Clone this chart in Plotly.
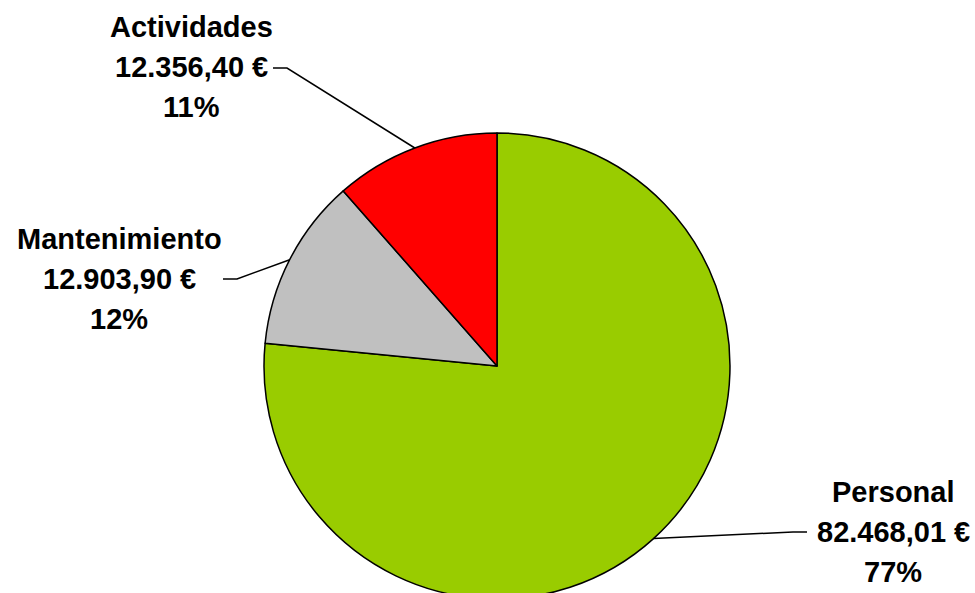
import math
import plotly.graph_objects as go

# ---- data ----
categories = ["Personal", "Mantenimiento", "Actividades"]
values = [82468.01, 12903.90, 12356.40]
colors = ["#99CC00", "#C0C0C0", "#FF0000"]

# ---- layout constants (pixels) ----
W, H = 975, 600    # figure slightly taller than the window: pie bottom is cut like the reference
R = 233            # pie radius in px
CX = 497           # pie centre x
CY = 366           # pie centre y

FONT = "Liberation Sans"
FS = 29
LINE_GAP = 40

# label block centres (x, y of first line) and leader elbow / end points
label_pos = {
    "Personal": (893, 492, (793, 532), (807, 532)),
    "Mantenimiento": (119, 239, (237, 279), (223, 279)),
    "Actividades": (191, 27, (287, 68), (273, 68)),
}


def fmt_eur(v):
    s = f"{v:,.2f}"
    s = s.replace(",", "X").replace(".", ",").replace("X", ".")
    return s + " €"


total = sum(values)

fig = go.Figure()
fig.add_trace(go.Pie(
    labels=categories,
    values=values,
    sort=False,
    direction="clockwise",
    rotation=0,
    marker=dict(colors=colors, line=dict(color="black", width=1.5)),
    textinfo="none",
    hoverinfo="label+value+percent",
    showlegend=False,
    domain=dict(x=[(CX - R) / W, (CX + R) / W],
                y=[(H - CY - R) / H, (H - CY + R) / H]),
))

annotations = []
shapes = []
cum = 0.0
for cat, v in zip(categories, values):
    frac = v / total
    mid = (cum + frac / 2) * 2 * math.pi
    cum += frac
    ex = CX + R * math.sin(mid)
    ey = CY - R * math.cos(mid)
    lx, ly, (bx, by), (tx, ty) = label_pos[cat]
    lines = [cat, fmt_eur(v), f"{round(frac * 100)}%"]
    for i, t in enumerate(lines):
        annotations.append(dict(
            x=lx, y=ly + i * LINE_GAP, xref="x", yref="y",
            text=f"<b>{t}</b>", showarrow=False,
            xanchor="center", yanchor="middle",
            font=dict(family=FONT, size=FS, color="black"),
        ))
    shapes.append(dict(
        type="path", xref="x", yref="y",
        path=f"M {ex:.1f},{ey:.1f} L {bx},{by} L {tx},{ty}",
        line=dict(color="black", width=1.5),
    ))

fig.update_layout(
    width=W, height=H,
    margin=dict(l=0, r=0, t=0, b=0),
    paper_bgcolor="white", plot_bgcolor="rgba(0,0,0,0)",
    xaxis=dict(range=[0, W], visible=False, domain=[0, 1], fixedrange=True),
    yaxis=dict(range=[H, 0], visible=False, domain=[0, 1], fixedrange=True),
    annotations=annotations,
    shapes=shapes,
)

fig.write_html(
    "out.html",
    config=dict(displayModeBar=False),
    post_script="document.body.style.margin='0';document.body.style.padding='0';"
                "document.body.style.overflow='hidden';",
)
